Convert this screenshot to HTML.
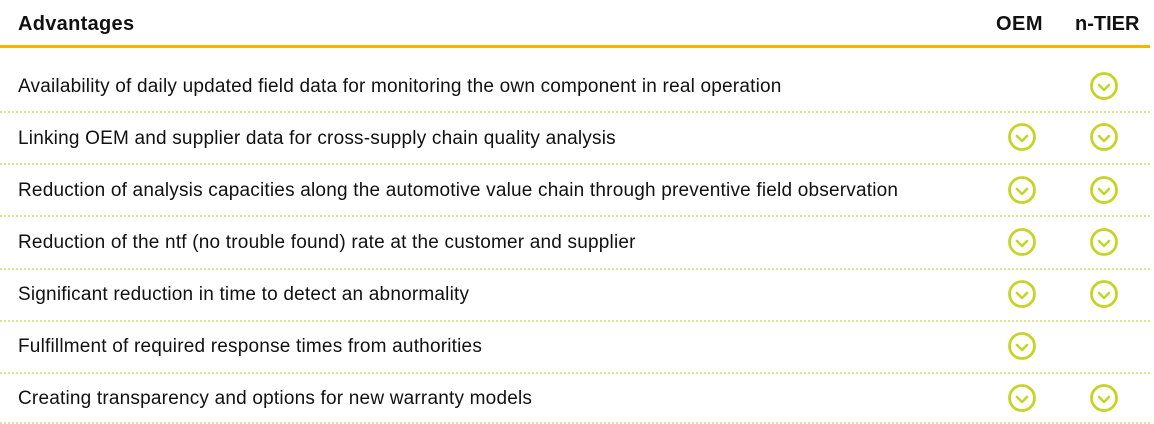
<!DOCTYPE html>
<html><head><style>
body{margin:0;width:1154px;height:424px;background:#fff;position:relative;overflow:hidden;font-family:"Liberation Sans",sans-serif;color:#111}
.h{position:absolute;top:11px;font-weight:bold;font-size:20px;line-height:26px}
.bar{position:absolute;left:0;top:45px;width:1150px;height:3px;background:#f9b200}
.t{position:absolute;left:18px;font-size:19px;letter-spacing:0.2px;line-height:22px;white-space:nowrap}
.d{position:absolute;left:0;width:1150px;border-top:2px dotted #dbe58f}
svg{position:absolute}
</style></head><body>
<div class="h" style="left:18px;letter-spacing:0.3px">Advantages</div>
<div class="h" style="left:996px;letter-spacing:0.5px">OEM</div>
<div class="h" style="left:1075px">n-TIER</div>
<div class="bar"></div>
<div class="t" style="top:76px">Availability of daily updated field data for monitoring the own component in real operation</div>
<div class="d" style="top:111px"></div>
<div class="t" style="top:128px">Linking OEM and supplier data for cross-supply chain quality analysis</div>
<div class="d" style="top:163px"></div>
<div class="t" style="top:180px">Reduction of analysis capacities along the automotive value chain through preventive field observation</div>
<div class="d" style="top:215px"></div>
<div class="t" style="top:232px">Reduction of the ntf (no trouble found) rate at the customer and supplier</div>
<div class="d" style="top:268px"></div>
<div class="t" style="top:284px">Significant reduction in time to detect an abnormality</div>
<div class="d" style="top:320px"></div>
<div class="t" style="top:336px">Fulfillment of required response times from authorities</div>
<div class="d" style="top:372px"></div>
<div class="t" style="top:388px">Creating transparency and options for new warranty models</div>
<div class="d" style="top:422px"></div>
<svg width="1154" height="424" style="left:0;top:0">
<defs><g id="c"><circle r="12.5" fill="none" stroke="#c6d42a" stroke-width="2.8"/><path d="M-5,-1 L0,4 L5,-1" fill="none" stroke="#c6d42a" stroke-width="2.6" stroke-linecap="round" stroke-linejoin="round"/></g></defs>
<use href="#c" x="1104" y="86"/>
<use href="#c" x="1022" y="137"/><use href="#c" x="1104" y="137"/>
<use href="#c" x="1022" y="190"/><use href="#c" x="1104" y="190"/>
<use href="#c" x="1022" y="242"/><use href="#c" x="1104" y="242"/>
<use href="#c" x="1022" y="294"/><use href="#c" x="1104" y="294"/>
<use href="#c" x="1022" y="346"/>
<use href="#c" x="1022" y="398"/><use href="#c" x="1104" y="398"/>
</svg>
</body></html>
